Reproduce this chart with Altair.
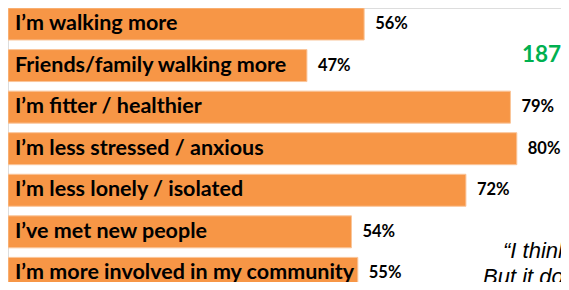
import altair as alt
import pandas as pd

categories = [
    "I’m walking more",
    "Friends/family walking more",
    "I’m fitter / healthier",
    "I’m less stressed / anxious",
    "I’m less lonely / isolated",
    "I’ve met new people",
    "I’m more involved in my community",
]
values = [56, 47, 79, 80, 72, 54, 55]
value_labels = ["56%", "47%", "79%", "80%", "72%", "54%", "55%"]
respondents = ["187"]
quote_lines = ["“I think", "But it do"]

df = pd.DataFrame({"category": categories, "value": values, "label": value_labels})

W, H = 553, 274

y_enc = alt.Y(
    "category:N",
    sort=categories,
    scale=alt.Scale(range=[0, 281.4], paddingInner=0.23, paddingOuter=0),
    axis=None,
)
x_scale = alt.Scale(domain=[0, 86.95], nice=False, zero=True)

base = alt.Chart(df).encode(y=y_enc)

bars = base.mark_bar(color="#F79646", stroke="#FAC59A", strokeWidth=1).encode(
    x=alt.X("value:Q", scale=x_scale, axis=None)
)

cat_text = base.mark_text(
    align="left", baseline="middle", x=7, font="Lato", fontSize=21.5,
    fontWeight="bold", color="#000000",
).encode(text="category:N")

val_text = base.mark_text(
    align="left", baseline="middle", dx=11, font="Lato", fontSize=16.5,
    fontWeight="bold", color="#000000",
).encode(x=alt.X("value:Q", scale=x_scale), text="label:N")

count_text = alt.Chart(pd.DataFrame({"t": respondents})).mark_text(
    align="left", baseline="alphabetic", font="Lato", fontSize=22.5,
    fontWeight="bold", color="#00B050",
).encode(text="t:N", x=alt.value(514), y=alt.value(54))

quote1 = alt.Chart(pd.DataFrame({"t": quote_lines[:1]})).mark_text(
    align="left", baseline="alphabetic", font="Liberation Sans", fontSize=22,
    fontStyle="italic", color="#000000",
).encode(text="t:N", x=alt.value(495), y=alt.value(250))

quote2 = alt.Chart(pd.DataFrame({"t": quote_lines[1:]})).mark_text(
    align="left", baseline="alphabetic", font="Liberation Sans", fontSize=22,
    fontStyle="italic", color="#000000",
).encode(text="t:N", x=alt.value(475), y=alt.value(276))

chart = (
    alt.layer(bars, cat_text, val_text, count_text, quote1, quote2)
    .properties(width=W, height=H, autosize=alt.AutoSizeParams(type="none"), padding=0)
    .configure_view(stroke=None)
    .configure(background="white")
)

chart.save("out.html", embed_options={"renderer": "svg", "actions": False})
